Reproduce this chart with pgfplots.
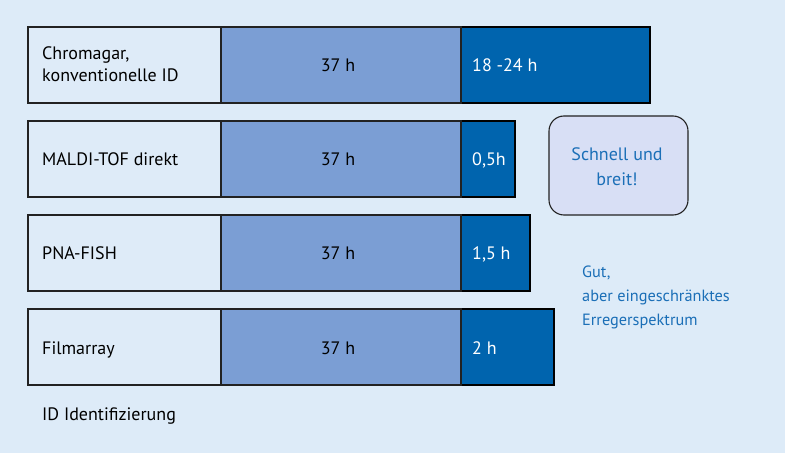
\documentclass[border=0pt]{standalone}
\usepackage{pgfplots}
\pgfplotsset{compat=1.18}
\usepackage{fontspec}
\setmainfont{PT Sans}

\definecolor{bg}{HTML}{DDEBF8}
\definecolor{labelbox}{HTML}{DEEBF8}
\definecolor{midblue}{HTML}{7B9ED4}
\definecolor{darkblue}{HTML}{0064AE}
\definecolor{boxfill}{HTML}{D8DFF5}
\definecolor{txtblue}{HTML}{1B6FB7}
\definecolor{edge}{HTML}{222222}

\begin{document}
\begin{tikzpicture}[
	every node/.style={inner sep=0pt},
	lab/.style={font=\fontsize{18}{22}\selectfont},
	blu/.style={font=\fontsize{16.3}{20}\selectfont, text=txtblue},
	bbx/.style={font=\fontsize{18}{22}\selectfont, text=txtblue},
]
\begin{axis}[
	scale only axis,
	width=785pt, height=453pt,
	xmin=-28, xmax=757,
	ymin=0, ymax=453,
	y dir=reverse,
	axis lines=none,
	ticks=none,
	axis background/.style={fill=bg},
	xbar stacked,
	bar width=76,
	clip=false,
]
% label boxes
\addplot[fill=labelbox, draw=edge, line width=1.1pt] coordinates {(193,65) (193,159) (193,253) (193,347)};
% 37 h
\addplot[fill=midblue, draw=edge, line width=1.1pt] coordinates {(240,65) (240,159) (240,253) (240,347)};
% method-specific time
\addplot[fill=darkblue, draw=black, line width=1.1pt] coordinates {(189,65) (54,159) (69,253) (93,347)};

% anchor points for the texts, drawn after the axis
\coordinate (l1a) at (axis cs:14,60);
\coordinate (l1b) at (axis cs:14,82);
\coordinate (l2) at (axis cs:14,166);
\coordinate (l3) at (axis cs:14,260);
\coordinate (l4) at (axis cs:14,354);
\coordinate (m1) at (axis cs:310,72);
\coordinate (m2) at (axis cs:310,166);
\coordinate (m3) at (axis cs:310,260);
\coordinate (m4) at (axis cs:310,354);
\coordinate (d1) at (axis cs:444,72);
\coordinate (d2) at (axis cs:444,166);
\coordinate (d3) at (axis cs:444,260);
\coordinate (d4) at (axis cs:444,354);
\coordinate (bx1) at (axis cs:521,116);
\coordinate (bx2) at (axis cs:660,215);
\coordinate (s1) at (axis cs:589,161);
\coordinate (s2) at (axis cs:589,186);
\coordinate (g1) at (axis cs:554,278);
\coordinate (g2) at (axis cs:554,302);
\coordinate (g3) at (axis cs:554,325);
\coordinate (id) at (axis cs:14,420);
\end{axis}

\node[lab, anchor=base west] at (l1a) {Chromagar,};
\node[lab, anchor=base west] at (l1b) {konventionelle ID};
\node[lab, anchor=base west] at (l2) {MALDI-TOF direkt};
\node[lab, anchor=base west] at (l3) {PNA-FISH};
\node[lab, anchor=base west] at (l4) {Filmarray};
\node[lab, anchor=base] at (m1) {37 h};
\node[lab, anchor=base] at (m2) {37 h};
\node[lab, anchor=base] at (m3) {37 h};
\node[lab, anchor=base] at (m4) {37 h};
\node[lab, anchor=base west, text=white] at (d1) {18 -24 h};
\node[lab, anchor=base west, text=white] at (d2) {0,5h};
\node[lab, anchor=base west, text=white] at (d3) {1,5 h};
\node[lab, anchor=base west, text=white] at (d4) {2 h};

\draw[fill=boxfill, draw=edge, line width=1.1pt, rounded corners=15pt] (bx1) rectangle (bx2);
\node[bbx, anchor=base] at (s1) {Schnell und};
\node[bbx, anchor=base] at (s2) {breit!};
\node[blu, anchor=base west] at (g1) {Gut,};
\node[blu, anchor=base west] at (g2) {aber eingeschränktes};
\node[blu, anchor=base west] at (g3) {Erregerspektrum};
\node[lab, anchor=base west] at (id) {ID Identifizierung};
\end{tikzpicture}
\end{document}
